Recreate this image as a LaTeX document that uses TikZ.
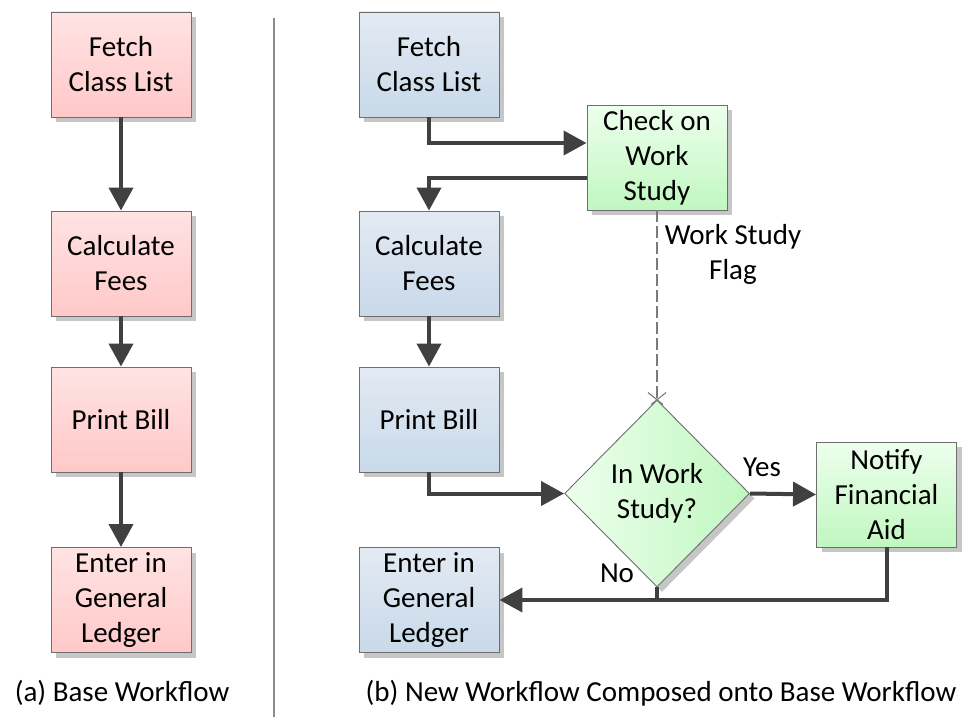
\documentclass[tikz,border=0pt]{standalone}
\usepackage{fontspec}
\setmainfont{Carlito}
\usetikzlibrary{arrows.meta,shapes.geometric,shadows,calc}
\definecolor{pinkT}{HTML}{FFE3E3}
\definecolor{pinkB}{HTML}{FFC8C8}
\definecolor{blueT}{HTML}{E3EAF3}
\definecolor{blueB}{HTML}{C8D9E9}
\definecolor{greenT}{HTML}{EDFFED}
\definecolor{greenB}{HTML}{C0F7C0}
\definecolor{edgeC}{HTML}{6E6E6E}
\definecolor{arrowC}{HTML}{404040}
\definecolor{shadowC}{HTML}{C6C6C6}
\definecolor{divC}{HTML}{8C8C8C}
\definecolor{dashC}{HTML}{7A7A7A}
\tikzset{
  box/.style={rectangle, draw=edgeC, line width=0.9pt, minimum width=140pt, minimum height=105pt,
    inner sep=0pt, align=center, font=\fontsize{29}{35}\selectfont,
    drop shadow={shadow xshift=5pt, shadow yshift=-5pt, fill=shadowC, opacity=1}},
  pinkbox/.style={box, top color=pinkT, bottom color=pinkB},
  bluebox/.style={box, top color=blueT, bottom color=blueB},
  greenbox/.style={box, top color=greenT, bottom color=greenB},
  flow/.style={draw=arrowC, line width=4pt, -{Triangle[length=23pt,width=24pt]}},
  flowplain/.style={draw=arrowC, line width=4pt},
  lbl/.style={font=\fontsize{29}{35}\selectfont, align=center, inner sep=0pt},
}
\begin{document}
\begin{tikzpicture}[x=1pt,y=-1pt]
\useasboundingbox (0,0) rectangle (964,717);
% divider
\draw[divC, line width=1.2pt] (274,18) -- (274,717);
% left column
\node[pinkbox] (f1) at (121,64.5) {Fetch\\Class List};
\node[pinkbox] (c1) at (121,263.5) {Calculate\\Fees};
\node[pinkbox] (p1) at (121,419.5) {Print Bill};
\node[pinkbox] (e1) at (121,600) {Enter in\\General\\Ledger};
\draw[flow] (f1) -- (c1);
\draw[flow] (c1) -- (p1);
\draw[flow] (p1) -- (e1);
% right column
\node[bluebox] (f2) at (429,64.5) {Fetch\\Class List};
\node[bluebox] (c2) at (429,263.5) {Calculate\\Fees};
\node[bluebox] (p2) at (429,419.5) {Print Bill};
\node[bluebox] (e2) at (429,600) {Enter in\\General\\Ledger};
\node[greenbox] (chk) at (657,157.5) {Check on\\Work\\Study};
\node[greenbox] (nfa) at (886.5,494.5) {Notify\\Financial\\Aid};
\node[diamond, draw=edgeC, line width=0.9pt, minimum width=185pt, minimum height=187pt, inner sep=0pt,
  align=center, font=\fontsize{29}{35}\selectfont, shading=axis, shading angle=45,
  left color=greenT, right color=greenB,
  drop shadow={shadow xshift=5pt, shadow yshift=-5pt, fill=shadowC, opacity=1}]
  (dia) at (657,493.5) {In Work\\Study?};
\draw[flow] (c2) -- (p2);
\draw[flow] (f2.south) |- ($(chk.west)+(0,-14.5)$);
\draw[flow] ($(chk.west)+(0,20.5)$) -| (c2.north);
\draw[dashC, line width=1.3pt, dash pattern=on 12pt off 4pt] (chk.south) -- (dia.north);
\draw[dashC, line width=1.1pt] ($(dia.north)+(-9,-7)$) -- ($(dia.north)+(6,5)$)
  ($(dia.north)+(9,-7)$) -- ($(dia.north)+(-6,5)$);
\draw[flow] (p2.south) |- (dia.west);
\draw[flow] (dia.east) -- (nfa.west);
\draw[flow] (nfa.south) |- (e2.east);
\draw[flowplain] (dia.south) -- (dia.south |- e2.east);
% labels
\node[lbl] (wsf) at (733,254) {Work Study\\Flag};
\node[lbl] (yes) at (762,467) {Yes};
\node[lbl] (no) at (617,573) {No};
% captions
\node[lbl] (capa) at (122,693) {(a) Base Workflow};
\node[lbl] (capb) at (661,693) {(b) New Workflow Composed onto Base Workflow};
\end{tikzpicture}
\end{document}
